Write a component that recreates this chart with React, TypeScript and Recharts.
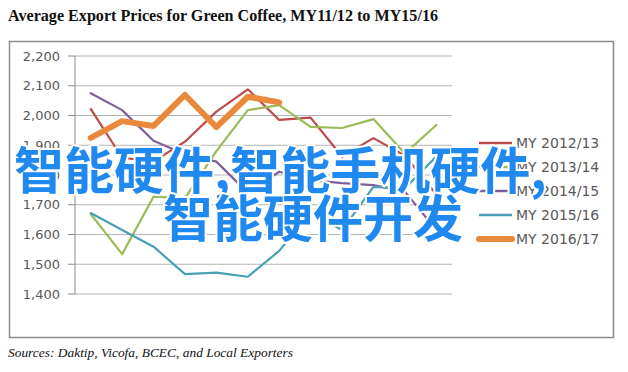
import React from 'react';
import { LineChart, Line, XAxis, YAxis, CartesianGrid } from 'recharts';

const categories = ['Oct.', 'Nov.', 'Dec.', 'Jan.', 'Feb.', 'Mar.', 'Apr.', 'May', 'Jun.', 'Jul.', 'Aug.', 'Sept.'];
const my1213 = [2022, 1858, 1846, 1912, 2013, 2088, 1985, 1993, 1862, 1924, 1865, 1735];
const my1314 = [1669, 1534, 1727, 1722, 1880, 2018, 2035, 1962, 1958, 1988, 1872, 1968];
const my1415 = [2075, 2018, 1915, 1870, 1845, 1740, 1811, 1783, 1773, 1766, 1744, 1615];
const my1516 = [1672, 1615, 1559, 1467, 1472, 1458, 1545, 1675, 1615, 1760, 1755, 1862];
const my1617 = [1925, 1981, 1965, 2069, 1961, 2063, 2044, null, null, null, null, null];
const seriesNames = ['MY 2012/13', 'MY 2013/14', 'MY 2014/15', 'MY 2015/16', 'MY 2016/17'];
const yTicks = [1400, 1500, 1600, 1700, 1800, 1900, 2000, 2100, 2200];

const titleText = 'Average Export Prices for Green Coffee, MY11/12 to MY15/16';
const sourceText = 'Sources: Daktip, Vicofa, BCEC, and Local Exporters';
const overlayLine1 = '智能硬件,智能手机硬件,';
const overlayLine2 = '智能硬件开发';

const seriesValues = [my1213, my1314, my1415, my1516, my1617];
const seriesStyles = [
  { color: '#BE4B48', width: 2.2 },
  { color: '#9BBB59', width: 2.2 },
  { color: '#7F5F9E', width: 2.2 },
  { color: '#4A9FB4', width: 2.2 },
  { color: '#E8893C', width: 6 },
];

const data = categories.map((month, i) => {
  const row: Record<string, string | number | null> = { month };
  seriesValues.forEach((vals, s) => {
    row['s' + s] = vals[i];
  });
  return row;
});

const W = 628;
const H = 372;
const PLOT_LEFT = 75;
const PLOT_RIGHT = 452;
const PLOT_TOP = 56;
const PLOT_BOTTOM = 294;
const Y_AXIS_W = 60;
const BAND = (PLOT_RIGHT - PLOT_LEFT) / categories.length;
const AXIS_COLOR = '#8a8a8a';
const TEXT_COLOR = '#595959';

const XTick = (props: any) => {
  const { x, y, payload, index } = props;
  const ax = x + 3;
  const ay = y + 17;
  return (
    <g>
      <line x1={x - BAND / 2} y1={y} x2={x - BAND / 2} y2={y + 5} stroke={AXIS_COLOR} strokeWidth={1} />
      {index === categories.length - 1 && (
        <line x1={x + BAND / 2} y1={y} x2={x + BAND / 2} y2={y + 5} stroke={AXIS_COLOR} strokeWidth={1} />
      )}
      <text
        x={ax}
        y={ay}
        textAnchor="end"
        transform={`rotate(-38 ${ax} ${ay})`}
        fontFamily="DejaVu Sans"
        fontSize={13}
        fill={TEXT_COLOR}
      >
        {payload.value}
      </text>
    </g>
  );
};

export default function App() {
  return (
    <div style={{ position: 'absolute', left: 0, top: 0, width: W, height: H, background: '#fff', overflow: 'hidden' }}>
      <svg width={W} height={H} style={{ position: 'absolute', left: 0, top: 0 }}>
        <text
          x={8}
          y={21}
          fontFamily="Liberation Serif"
          fontWeight="bold"
          fontSize={17}
          fill="#111"
          textLength={430}
          lengthAdjust="spacingAndGlyphs"
        >
          {titleText}
        </text>
        <rect x={9.5} y={41.5} width={604} height={296} fill="none" stroke="#8c8c8c" strokeWidth={1.5} />
        <text
          x={8}
          y={357}
          fontFamily="Liberation Serif"
          fontStyle="italic"
          fontSize={12.5}
          fill="#111"
          textLength={285}
          lengthAdjust="spacingAndGlyphs"
        >
          {sourceText}
        </text>
      </svg>
      <div style={{ position: 'absolute', left: 0, top: 0 }}>
        <LineChart
          width={W}
          height={H}
          data={data}
          margin={{ top: PLOT_TOP, right: W - PLOT_RIGHT, bottom: H - PLOT_BOTTOM, left: PLOT_LEFT - Y_AXIS_W }}
        >
          <CartesianGrid vertical={false} stroke="#b5b5b5" strokeWidth={1} />
          <XAxis
            dataKey="month"
            height={0}
            interval={0}
            padding={{ left: BAND / 2, right: BAND / 2 }}
            tickLine={false}
            tickSize={0}
            tickMargin={0}
            axisLine={{ stroke: AXIS_COLOR }}
            tick={<XTick />}
          />
          <YAxis
            width={Y_AXIS_W}
            domain={[1400, 2200]}
            ticks={yTicks}
            interval={0}
            tickSize={7}
            tickMargin={8}
            axisLine={{ stroke: AXIS_COLOR }}
            tickLine={{ stroke: AXIS_COLOR }}
            tickFormatter={(v: number) => v.toLocaleString('en-US')}
            tick={{ fontFamily: 'DejaVu Sans', fontSize: 13, fill: TEXT_COLOR }}
          />
          {seriesStyles.map((st, s) => (
            <Line
              key={s}
              type="linear"
              dataKey={'s' + s}
              name={seriesNames[s]}
              stroke={st.color}
              strokeWidth={st.width}
              strokeLinecap="round"
              strokeLinejoin="round"
              dot={false}
              activeDot={false}
              connectNulls={false}
              isAnimationActive={false}
            />
          ))}
        </LineChart>
      </div>
      <svg width={W} height={H} style={{ position: 'absolute', left: 0, top: 0 }}>
        {seriesNames.map((name, s) => {
          const cy = 143 + s * 24;
          const st = seriesStyles[s];
          return (
            <g key={name}>
              <line
                x1={479}
                y1={cy}
                x2={512}
                y2={cy}
                stroke={st.color}
                strokeWidth={st.width === 6 ? 6 : 2.5}
                strokeLinecap={st.width === 6 ? 'round' : 'butt'}
              />
              <text x={516} y={cy + 5} fontFamily="DejaVu Sans" fontSize={14} fill={TEXT_COLOR}>
                {name}
              </text>
            </g>
          );
        })}
      </svg>
      <svg width={W} height={H} style={{ position: 'absolute', left: 0, top: 0 }}>
        <g
          fontFamily="Noto Sans CJK SC"
          fontWeight="bold"
          fontSize={50}
          fill="#2089F0"
          stroke="#ffffff"
          strokeWidth={4}
          strokeLinejoin="round"
          style={{ paintOrder: 'stroke fill' }}
        >
          <text x={14} y={189}>{overlayLine1}</text>
          <text x={163} y={237}>{overlayLine2}</text>
        </g>
      </svg>
    </div>
  );
}
